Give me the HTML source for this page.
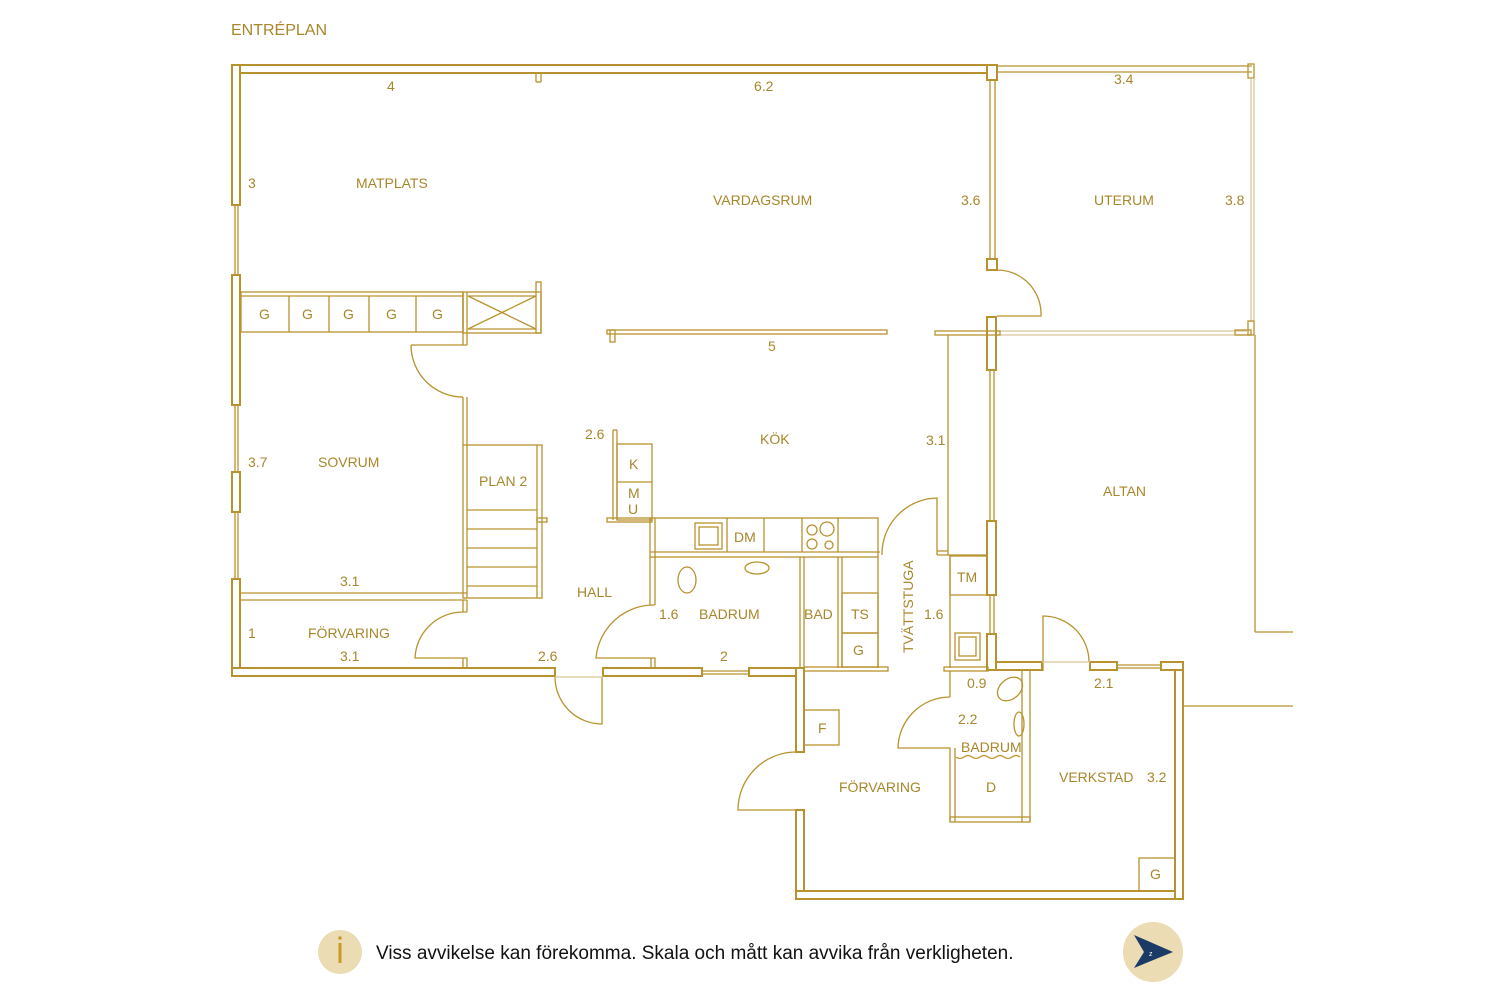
<!DOCTYPE html>
<html><head><meta charset="utf-8"><style>
body{margin:0;background:#fff;width:1500px;height:1000px;overflow:hidden}
svg text{font-family:"Liberation Sans",sans-serif;fill:#a8862a;font-size:14px}
</style></head><body>
<svg width="1500" height="1000" viewBox="0 0 1500 1000" xmlns="http://www.w3.org/2000/svg">
<g fill="#fff" stroke="#b8922e" stroke-width="2">
<rect x="232" y="65" width="764" height="8"/>
<rect x="987" y="65" width="10" height="15"/>
<rect x="232" y="65" width="8" height="140"/>
<rect x="232" y="275" width="8" height="130"/>
<rect x="232" y="472" width="8" height="40"/>
<rect x="232" y="579" width="8" height="97"/>
<rect x="232" y="668" width="323" height="8"/>
<rect x="603" y="668" width="99" height="8"/>
<rect x="749" y="668" width="55" height="8"/>
<rect x="796" y="668" width="8" height="84"/>
<rect x="796" y="810" width="8" height="89"/>
<rect x="796" y="891" width="387" height="8"/>
<rect x="1175" y="662" width="8" height="237"/>
<rect x="1161" y="662" width="22" height="8"/>
<rect x="1090" y="662" width="27" height="8"/>
<rect x="988" y="662" width="54" height="8"/>
<rect x="987" y="259" width="10" height="11"/>
<rect x="987" y="317" width="9" height="53"/>
<rect x="987" y="521" width="9" height="74"/>
<rect x="987" y="634" width="9" height="36"/>
</g>
<g fill="none" stroke="#b8922e" stroke-width="1.3">
<line x1="235" y1="205" x2="235" y2="275"/><line x1="238" y1="205" x2="238" y2="275"/>
<line x1="235" y1="405" x2="235" y2="472"/><line x1="238" y1="405" x2="238" y2="472"/>
<line x1="235" y1="512" x2="235" y2="579"/><line x1="238" y1="512" x2="238" y2="579"/>
<line x1="702" y1="671" x2="749" y2="671"/><line x1="702" y1="674" x2="749" y2="674"/>
<line x1="1117" y1="665" x2="1161" y2="665"/><line x1="1117" y1="668" x2="1161" y2="668"/>
<line x1="997" y1="66" x2="1252" y2="66"/><line x1="997" y1="72" x2="1252" y2="72"/>
<rect x="1248" y="64" width="6" height="14"/>
<line x1="990" y1="80" x2="990" y2="259"/><line x1="995" y1="80" x2="995" y2="259"/>
<line x1="990" y1="370" x2="990" y2="521"/><line x1="994" y1="370" x2="994" y2="521"/>
<line x1="990" y1="595" x2="990" y2="634"/><line x1="994" y1="595" x2="994" y2="634"/>
<line x1="536" y1="73" x2="536" y2="82"/><line x1="541" y1="73" x2="541" y2="82"/><line x1="536" y1="82" x2="541" y2="82"/>
<line x1="1251" y1="78" x2="1251" y2="322" stroke="#d9c79a"/><line x1="1254" y1="78" x2="1254" y2="322" stroke="#d9c79a"/>
<rect x="1248" y="321" width="6" height="14"/>
<line x1="997" y1="331" x2="1248" y2="331" stroke="#d9c79a"/><line x1="997" y1="335" x2="1248" y2="335" stroke="#d9c79a"/>
<rect x="935" y="331" width="65" height="4"/>
<rect x="1235" y="330" width="16" height="5"/>
<path d="M997 270 A44 44 0 0 1 1041 316 L997 316"/>
<line x1="1255" y1="335" x2="1255" y2="632"/><line x1="1255" y1="632" x2="1293" y2="632"/>
<line x1="1184" y1="706" x2="1293" y2="706"/>
<rect x="241" y="292" width="222" height="40"/>
<line x1="241" y1="296" x2="463" y2="296"/>
<line x1="289" y1="296" x2="289" y2="332"/><line x1="329" y1="296" x2="329" y2="332"/><line x1="369" y1="296" x2="369" y2="332"/><line x1="416" y1="296" x2="416" y2="332"/>
<rect x="463" y="292" width="78" height="41"/>
<line x1="468" y1="296" x2="536" y2="296"/><line x1="468" y1="329" x2="536" y2="329"/>
<line x1="468" y1="296" x2="536" y2="329"/><line x1="468" y1="329" x2="536" y2="296"/>
<rect x="536" y="282" width="5" height="51"/><line x1="463" y1="292" x2="463" y2="345"/><line x1="467" y1="292" x2="467" y2="345"/>
<path d="M411 345 L467 345 M411 345 A52 52 0 0 0 463 397"/>
<line x1="463" y1="397" x2="463" y2="445"/><line x1="467" y1="397" x2="467" y2="445"/>
<rect x="463" y="445" width="79" height="153"/>
<line x1="467" y1="445" x2="467" y2="598"/><line x1="537" y1="445" x2="537" y2="598"/>
<line x1="467" y1="510" x2="537" y2="510"/><line x1="467" y1="529" x2="537" y2="529"/><line x1="467" y1="548" x2="537" y2="548"/><line x1="467" y1="567" x2="537" y2="567"/><line x1="467" y1="586" x2="537" y2="586"/>
<rect x="537" y="518" width="10" height="4"/>
<line x1="240" y1="593" x2="467" y2="593"/><line x1="240" y1="600" x2="467" y2="600"/>
<line x1="463" y1="600" x2="463" y2="612"/><line x1="467" y1="600" x2="467" y2="612"/>
<path d="M467 612 L463 612 A48 48 0 0 0 415 658 L467 658 L467 668 M463 658 L463 668"/>
<path d="M555 677 A47 47 0 0 0 602 724 L602 677"/>
<line x1="555" y1="677" x2="603" y2="677" stroke="#d9c79a"/>
<rect x="607" y="330" width="280" height="4"/><rect x="610" y="330" width="5" height="12"/>
<line x1="613" y1="430" x2="613" y2="520"/><line x1="617" y1="430" x2="617" y2="520"/><line x1="613" y1="430" x2="617" y2="430"/>
<rect x="617" y="444" width="35" height="76"/><line x1="617" y1="482" x2="652" y2="482"/>
<rect x="607" y="518" width="45" height="4"/>
<rect x="650" y="518" width="228" height="39"/><line x1="650" y1="552" x2="880" y2="552"/>
<line x1="655" y1="518" x2="655" y2="605"/>
<line x1="727" y1="518" x2="727" y2="552"/><line x1="764" y1="518" x2="764" y2="552"/><line x1="802" y1="518" x2="802" y2="552"/><line x1="838" y1="518" x2="838" y2="552"/>
<rect x="695" y="523" width="27" height="26"/><rect x="699" y="527" width="19" height="18"/>
<circle cx="812" cy="530" r="5"/><circle cx="827" cy="529" r="7"/><circle cx="812" cy="544" r="5"/><circle cx="829" cy="545" r="4"/>
<line x1="650" y1="557" x2="650" y2="605"/>
<path d="M655 605 A58 58 0 0 0 596 658 L655 658 L655 668 M651 658 L651 668"/>
<ellipse cx="687" cy="580" rx="9" ry="13"/><ellipse cx="757" cy="568" rx="12" ry="6"/>
<line x1="800" y1="557" x2="800" y2="668"/><line x1="804" y1="557" x2="804" y2="668"/>
<line x1="838" y1="557" x2="838" y2="668"/><line x1="842" y1="557" x2="842" y2="668"/>
<rect x="842" y="593" width="36" height="40"/><rect x="842" y="633" width="36" height="34"/>
<line x1="878" y1="557" x2="878" y2="668"/>
<rect x="804" y="667" width="84" height="4"/>
<line x1="948" y1="335" x2="948" y2="555"/>
<path d="M937 555 L937 498 A56 56 0 0 0 882 555"/>
<line x1="937" y1="555" x2="987" y2="555"/><line x1="937" y1="551" x2="948" y2="551"/>
<line x1="950" y1="555" x2="950" y2="668"/>
<rect x="950" y="556" width="37" height="39"/>
<rect x="955" y="633" width="25" height="27"/><rect x="959" y="637" width="17" height="19"/>
<rect x="944" y="667" width="44" height="4"/>
<line x1="950" y1="671" x2="950" y2="697"/>
<path d="M950 697 A52 52 0 0 0 898 748 L950 748 L950 822"/>
<line x1="955" y1="748" x2="955" y2="822"/>
<rect x="950" y="817" width="80" height="5"/>
<line x1="1022" y1="671" x2="1022" y2="822"/><line x1="1030" y1="671" x2="1030" y2="822"/>
<path d="M956 757 q4 3 8 0 t8 0 t8 0 t8 0 t8 0 t8 0 t8 0 t8 0"/>
<ellipse cx="1010" cy="689" rx="14" ry="10" transform="rotate(-40 1010 689)"/>
<ellipse cx="1019" cy="724" rx="5" ry="12"/>
<path d="M1043 671 L1043 616 A46 46 0 0 1 1089 662"/>
<line x1="1042" y1="662" x2="1090" y2="662" stroke="#d9c79a"/>
<path d="M796 752 A58 58 0 0 0 738 810 L796 810"/>
<rect x="804" y="710" width="35" height="35"/>
<rect x="1139" y="858" width="36" height="33"/>
</g>
<g>
<text x="231" y="35" style="font-size:16px">ENTRÉPLAN</text>
<text x="387" y="91">4</text><text x="754" y="91">6.2</text><text x="1114" y="84">3.4</text>
<text x="248" y="188">3</text><text x="356" y="188">MATPLATS</text>
<text x="713" y="205">VARDAGSRUM</text><text x="961" y="205">3.6</text>
<text x="1094" y="205">UTERUM</text><text x="1225" y="205">3.8</text>
<text x="259" y="319">G</text><text x="302" y="319">G</text><text x="343" y="319">G</text><text x="386" y="319">G</text><text x="432" y="319">G</text>
<text x="768" y="351">5</text>
<text x="585" y="439">2.6</text><text x="760" y="444">KÖK</text><text x="926" y="445">3.1</text>
<text x="629" y="469">K</text><text x="628" y="498">M</text><text x="628" y="514">U</text>
<text x="248" y="467">3.7</text><text x="318" y="467">SOVRUM</text>
<text x="479" y="486">PLAN 2</text><text x="1103" y="496">ALTAN</text>
<text x="734" y="542">DM</text><text x="957" y="582">TM</text>
<text x="340" y="586">3.1</text><text x="577" y="597">HALL</text>
<text x="659" y="619">1.6</text><text x="699" y="619">BADRUM</text>
<text x="804" y="619">BAD</text><text x="851" y="619">TS</text><text x="853" y="655">G</text>
<text x="924" y="619">1.6</text>
<text transform="translate(913 653) rotate(-90)">TVÄTTSTUGA</text>
<text x="248" y="638">1</text><text x="308" y="638">FÖRVARING</text>
<text x="340" y="661">3.1</text><text x="538" y="661">2.6</text><text x="720" y="661">2</text>
<text x="967" y="688">0.9</text><text x="1094" y="688">2.1</text>
<text x="958" y="724">2.2</text><text x="961" y="752">BADRUM</text>
<text x="818" y="733">F</text>
<text x="1059" y="782">VERKSTAD</text><text x="1147" y="782">3.2</text>
<text x="839" y="792">FÖRVARING</text><text x="986" y="792">D</text>
<text x="1150" y="879">G</text>
</g>
<circle cx="340" cy="952" r="22" fill="#ecdcb4"/>
<rect x="338.5" y="943" width="3" height="20" fill="#c99a25"/><circle cx="340" cy="938" r="1.8" fill="#c99a25"/>
<text x="376" y="959" style="fill:#111;font-size:19px">Viss avvikelse kan förekomma. Skala och mått kan avvika från verkligheten.</text>
<circle cx="1153" cy="952" r="30" fill="#ecdcb4"/>
<path d="M1134 935 L1173 952 L1134 968 L1144 952 Z" fill="#1c3a66"/>
<text x="1149" y="956" style="fill:#fff;font-size:7px">z</text>
</svg>
</body></html>
